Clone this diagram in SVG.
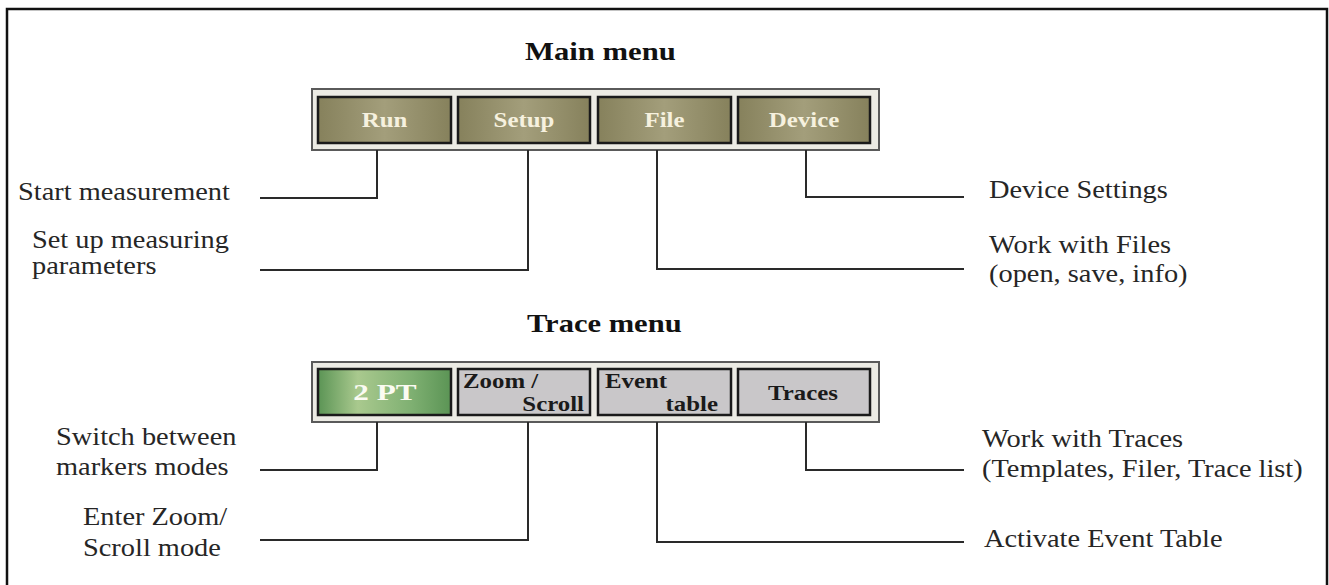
<svg xmlns="http://www.w3.org/2000/svg" width="1329" height="585" viewBox="0 0 1329 585">
<defs>
<linearGradient id="olive" x1="0" y1="0" x2="1" y2="0">
<stop offset="0" stop-color="#86815c"/><stop offset="0.5" stop-color="#a39e7b"/><stop offset="1" stop-color="#86815c"/>
</linearGradient>
<linearGradient id="green" x1="0" y1="0" x2="1" y2="0">
<stop offset="0" stop-color="#5b9455"/><stop offset="0.3" stop-color="#a9c98e"/><stop offset="0.7" stop-color="#7fb072"/><stop offset="1" stop-color="#5b9455"/>
</linearGradient>
<style>
.frame{fill:none;stroke:#111;stroke-width:2.5}
.bar{fill:#ecebe4;stroke:#5a5a5a;stroke-width:2}
.btn{stroke:#1a1a1a;stroke-width:2.5}
.ol{fill:url(#olive)}
.gr{fill:url(#green)}
.gy{fill:#c9c7c9}
.conn path{fill:none;stroke:#2a2a2a;stroke-width:2}
.lbl{font-family:"Liberation Serif","Times New Roman",serif;font-size:25px;fill:#262626}
.ttl{font-family:"Liberation Serif","Times New Roman",serif;font-size:26px;font-weight:bold;fill:#111}
.bl{font-family:"Liberation Serif","Times New Roman",serif;font-size:22px;font-weight:bold;fill:#f6f1df;text-anchor:middle}
.bd{font-family:"Liberation Serif","Times New Roman",serif;font-size:22px;font-weight:bold;fill:#1a1a1a}
</style>
</defs>
<rect x="0" y="0" width="1329" height="585" fill="#fff"/>
<rect class="frame" x="7" y="9" width="1320" height="600"/>

<g id="main-title"><text class="ttl" transform="translate(525,60) scale(1.18,1)">Main menu</text></g>
<g id="trace-title"><text class="ttl" transform="translate(527,332) scale(1.175,1)">Trace menu</text></g>

<g id="main-bar"><rect class="bar" x="312" y="89" width="567" height="61"/></g>
<g id="btn-run"><rect class="btn ol" x="318" y="97" width="133" height="46"/><text class="bl" transform="translate(384.5,127) scale(1.13,1)">Run</text></g>
<g id="btn-setup"><rect class="btn ol" x="458" y="97" width="132" height="46"/><text class="bl" transform="translate(524,127) scale(1.13,1)">Setup</text></g>
<g id="btn-file"><rect class="btn ol" x="598" y="97" width="133" height="46"/><text class="bl" transform="translate(664.5,127) scale(1.13,1)">File</text></g>
<g id="btn-device"><rect class="btn ol" x="738" y="97" width="132" height="46"/><text class="bl" transform="translate(804,127) scale(1.13,1)">Device</text></g>

<g id="trace-bar"><rect class="bar" x="312" y="362" width="567" height="60"/></g>
<g id="btn-2pt"><rect class="btn gr" x="318" y="369" width="133" height="46"/><text class="bl" style="fill:#fbfbf2;font-size:24px" transform="translate(385,400) scale(1.3,1)">2 PT</text></g>
<g id="btn-zoom"><rect class="btn gy" x="458" y="369" width="132" height="46"/><text class="bd" transform="translate(463,388) scale(1.13,1)">Zoom /</text><text class="bd" text-anchor="end" transform="translate(584,411) scale(1.13,1)">Scroll</text></g>
<g id="btn-event"><rect class="btn gy" x="598" y="369" width="133" height="46"/><text class="bd" transform="translate(605,388) scale(1.13,1)">Event</text><text class="bd" text-anchor="end" transform="translate(718,411) scale(1.13,1)">table</text></g>
<g id="btn-traces"><rect class="btn gy" x="738" y="369" width="132" height="46"/><text class="bd" text-anchor="middle" transform="translate(803,400) scale(1.13,1)">Traces</text></g>

<g class="conn" id="connectors">
<path d="M377,150 V198 H260"/>
<path d="M528,150 V270 H260"/>
<path d="M657,150 V269 H964"/>
<path d="M806,150 V197 H964"/>
<path d="M377,422 V470 H260"/>
<path d="M528,422 V540 H260"/>
<path d="M657,422 V542 H964"/>
<path d="M806,422 V470 H964"/>
</g>

<g id="lbl-start"><text class="lbl" transform="translate(18,200) scale(1.135,1)">Start measurement</text></g>
<g id="lbl-setup"><text class="lbl" transform="translate(32,248) scale(1.135,1)"><tspan x="0" y="0">Set up measuring</tspan><tspan x="0" y="26">parameters</tspan></text></g>
<g id="lbl-device"><text class="lbl" transform="translate(989,198) scale(1.135,1)">Device Settings</text></g>
<g id="lbl-files"><text class="lbl" transform="translate(989,253) scale(1.135,1)"><tspan x="0" y="0">Work with Files</tspan><tspan x="0" y="29">(open, save, info)</tspan></text></g>
<g id="lbl-switch"><text class="lbl" transform="translate(56,445) scale(1.135,1)"><tspan x="0" y="0">Switch between</tspan><tspan x="0" y="30">markers modes</tspan></text></g>
<g id="lbl-zoom"><text class="lbl" transform="translate(83,525) scale(1.135,1)"><tspan x="0" y="0">Enter Zoom/</tspan><tspan x="0" y="31">Scroll mode</tspan></text></g>
<g id="lbl-traces"><text class="lbl" transform="translate(982,447) scale(1.135,1)"><tspan x="0" y="0">Work with Traces</tspan><tspan x="0" y="30">(Templates, Filer, Trace list)</tspan></text></g>
<g id="lbl-event"><text class="lbl" transform="translate(984,547) scale(1.135,1)">Activate Event Table</text></g>
</svg>
